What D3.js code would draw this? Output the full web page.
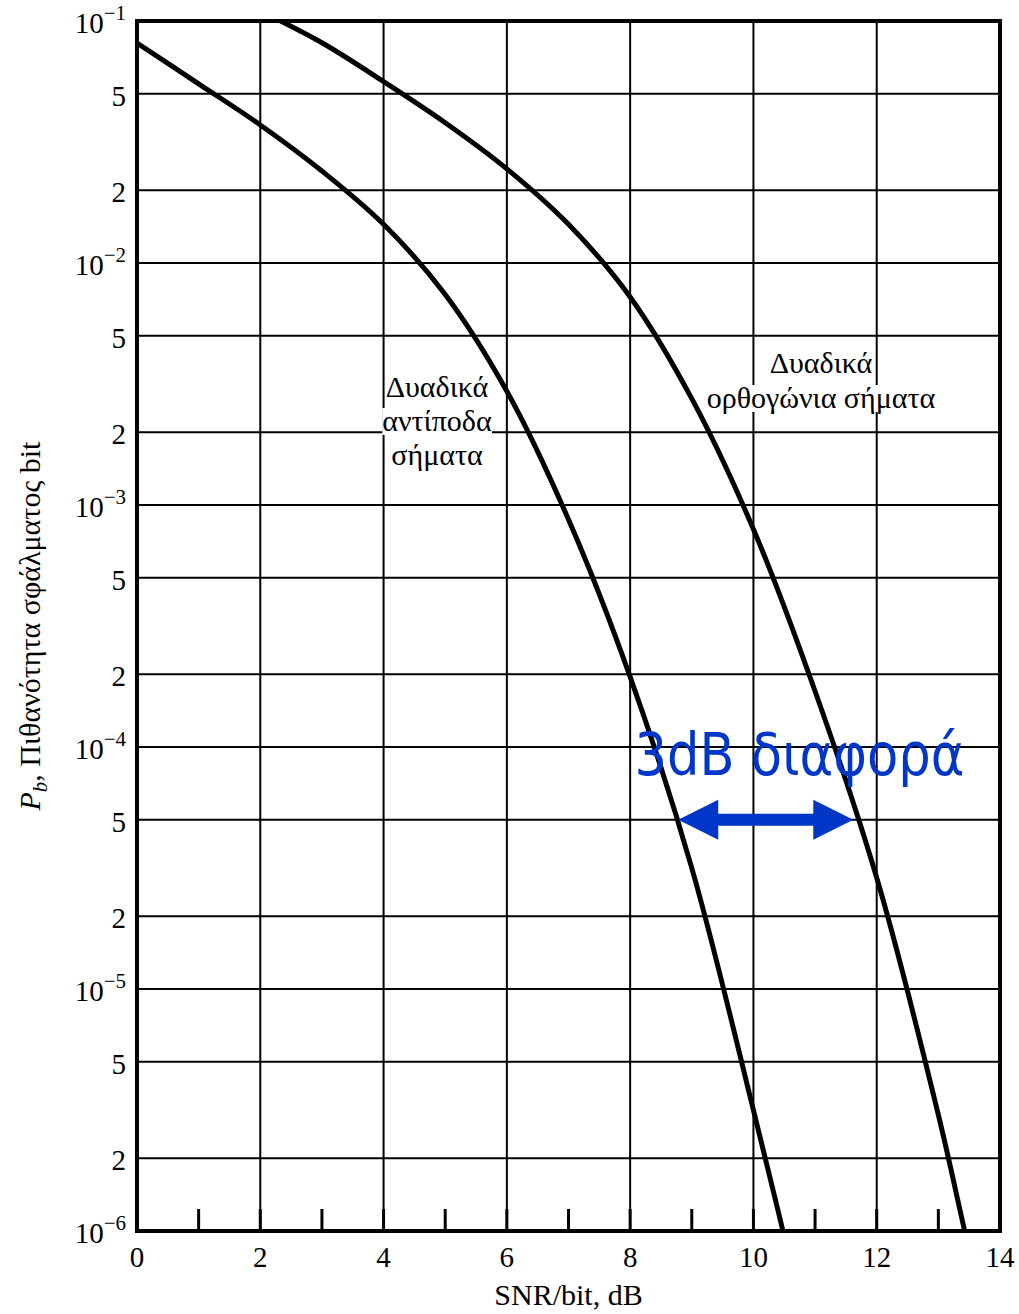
<!DOCTYPE html>
<html>
<head>
<meta charset="utf-8">
<script src="https://cdn.jsdelivr.net/npm/d3@7"></script>
<style>
  body { margin: 0; background: #fff; }
  svg { display: block; }
</style>
</head>
<body>
<div id="chart"></div>
<script>
var width = 1019,
	height = 1314;

// Data (SNR/bit in dB, bit error probability)
var snrAntipodal = [0, 1, 2, 3, 4, 5, 6, 7, 8, 9, 10, 10.5, 11];
var pbAntipodal  = [0.0811, 0.055, 0.0372, 0.024, 0.01445, 0.00741, 0.00295, 8.71e-4, 1.95e-4, 3.16e-5, 3.16e-6, 9.5e-7, 2.8e-7];
var snrOrthogonal = [2, 3, 4, 5, 6, 7, 8, 9, 10, 11, 12, 13, 13.5, 14];
var pbOrthogonal  = [0.11, 0.0813, 0.0562, 0.038, 0.0245, 0.01445, 0.00724, 0.00275, 7.94e-4, 1.7e-4, 2.88e-5, 3.02e-6, 8.3e-7, 2.5e-7];

var xTicks = [0, 2, 4, 6, 8, 10, 12, 14];
var xMinor = [1, 2, 3, 4, 5, 6, 7, 8, 9, 10, 11, 12, 13];
var decades = [-6, -5, -4, -3, -2, -1];
var mantissas = [2, 5];

var labelAntipodal = ["Δυαδικά", "αντίποδα", "σήματα"];
var labelOrthogonal = ["Δυαδικά", "ορθογώνια σήματα"];
var diffLabel = "3dB διαφορά";
var arrowFrom = 8.78, arrowTo = 11.62, arrowAt = 5e-5;

var margin = {top: 21, right: 19, bottom: 83, left: 137};
var serif = "'Liberation Serif', 'DejaVu Serif', 'Times New Roman', serif";

var svg = d3.select("#chart")
	.append("svg")
	.attr("width", width)
	.attr("height", height);

// Scales
var x = d3.scaleLinear()
	.domain([0, 14])
	.range([margin.left, width - margin.right]);
var y = d3.scaleLog()
	.domain([1e-6, 1e-1])
	.range([height - margin.bottom, margin.top]);

var yGrid = [];
decades.forEach(function(e){
	yGrid.push(Math.pow(10, e));
	if (e < -1) mantissas.forEach(function(m){ yGrid.push(m * Math.pow(10, e)); });
});

// Grid
var grid = svg.append("g").attr("class", "grid");
grid.selectAll(".hgrid")
	.data(yGrid)
	.enter()
	.append("line")
	.attr("x1", x(0)).attr("x2", x(14))
	.attr("y1", function(d){ return y(d); })
	.attr("y2", function(d){ return y(d); })
	.attr("stroke", "#000")
	.attr("stroke-width", 2);
grid.selectAll(".vgrid")
	.data(xTicks)
	.enter()
	.append("line")
	.attr("x1", function(d){ return x(d); })
	.attr("x2", function(d){ return x(d); })
	.attr("y1", y(1e-1)).attr("y2", y(1e-6))
	.attr("stroke", "#000")
	.attr("stroke-width", 2);

// minor ticks along the bottom
grid.selectAll(".minor")
	.data(xMinor)
	.enter()
	.append("line")
	.attr("x1", function(d){ return x(d); })
	.attr("x2", function(d){ return x(d); })
	.attr("y1", y(1e-6)).attr("y2", y(1e-6) - 22)
	.attr("stroke", "#000")
	.attr("stroke-width", 3);

// Curve labels with white background (drawn before curves)
function curveLabel(lines, cx, firstBaseline, step) {
	var g = svg.append("g");
	lines.forEach(function(t, i){
		var txt = g.append("text")
			.attr("x", cx)
			.attr("y", firstBaseline + i * step)
			.attr("text-anchor", "middle")
			.attr("font-family", serif)
			.attr("font-size", 30)
			.text(t);
		var b = txt.node().getBBox();
		g.insert("rect", "text")
			.attr("x", b.x).attr("y", b.y + 4)
			.attr("width", b.width).attr("height", b.height - 6)
			.attr("fill", "#fff");
	});
}
curveLabel(labelAntipodal, 437, 397, 34);
curveLabel(labelOrthogonal, 821, 373, 35);

// Curves
svg.append("clipPath").attr("id", "plotclip")
	.append("rect")
	.attr("x", x(0)).attr("y", y(1e-1))
	.attr("width", x(14) - x(0)).attr("height", y(1e-6) - y(1e-1));

var line = d3.line()
	.x(function(d){ return x(d[0]); })
	.y(function(d){ return y(d[1]); })
	.curve(d3.curveCatmullRom);

var curves = svg.append("g").attr("clip-path", "url(#plotclip)");
curves.append("path")
	.datum(d3.zip(snrAntipodal, pbAntipodal))
	.attr("d", line)
	.attr("fill", "none")
	.attr("stroke", "#000")
	.attr("stroke-width", 5);
curves.append("path")
	.datum(d3.zip(snrOrthogonal, pbOrthogonal))
	.attr("d", line)
	.attr("fill", "none")
	.attr("stroke", "#000")
	.attr("stroke-width", 5);

// Frame
svg.append("rect")
	.attr("x", x(0)).attr("y", y(1e-1))
	.attr("width", x(14) - x(0)).attr("height", y(1e-6) - y(1e-1))
	.attr("fill", "none")
	.attr("stroke", "#000")
	.attr("stroke-width", 4);

// X tick labels
svg.append("g")
	.selectAll("text")
	.data(xTicks)
	.enter()
	.append("text")
	.attr("x", function(d){ return x(d); })
	.attr("y", y(1e-6) + 36)
	.attr("text-anchor", "middle")
	.attr("font-family", serif)
	.attr("font-size", 29)
	.text(function(d){ return d; });

// Y tick labels
var yl = svg.append("g");
yGrid.forEach(function(v){
	var e = Math.floor(Math.log10(v) + 1e-9);
	var m = Math.round(v / Math.pow(10, e));
	var t = yl.append("text")
		.attr("x", x(0) - 11)
		.attr("y", y(v) + 12)
		.attr("text-anchor", "end")
		.attr("font-family", serif)
		.attr("font-size", 29);
	if (m === 1) {
		t.append("tspan").text("10");
		t.append("tspan")
			.attr("dy", -13)
			.attr("font-size", 21)
			.text("\u2212" + (-e));
	} else {
		t.text(m);
	}
});

// Axis titles
svg.append("text")
	.attr("x", (x(0) + x(14)) / 2)
	.attr("y", 1305)
	.attr("text-anchor", "middle")
	.attr("font-family", serif)
	.attr("font-size", 30)
	.text("SNR/bit, dB");

var yt = svg.append("text")
	.attr("transform", "translate(40," + ((y(1e-1) + y(1e-6)) / 2) + ") rotate(-90)")
	.attr("text-anchor", "middle")
	.attr("font-family", serif)
	.attr("font-size", 30);
yt.append("tspan").attr("font-style", "italic").text("P");
yt.append("tspan").attr("font-style", "italic").attr("font-size", 21).attr("dy", 7).text("b");
yt.append("tspan").attr("dy", -7).text(", Πιθανότητα σφάλματος bit");

// 3 dB annotation
var blue = "#0037c8";
var ay = y(arrowAt), ax1 = x(arrowFrom), ax2 = x(arrowTo);
var hl = 40, hh = 20, sh = 6;
svg.append("path")
	.attr("d", "M" + ax1 + "," + ay +
		"L" + (ax1 + hl) + "," + (ay - hh) +
		"L" + (ax1 + hl) + "," + (ay - sh) +
		"L" + (ax2 - hl) + "," + (ay - sh) +
		"L" + (ax2 - hl) + "," + (ay - hh) +
		"L" + ax2 + "," + ay +
		"L" + (ax2 - hl) + "," + (ay + hh) +
		"L" + (ax2 - hl) + "," + (ay + sh) +
		"L" + (ax1 + hl) + "," + (ay + sh) +
		"L" + (ax1 + hl) + "," + (ay + hh) + "Z")
	.attr("fill", blue);

svg.append("text")
	.attr("x", x(8.07))
	.attr("y", y(arrowAt) - 45)
	.attr("font-family", "'DejaVu Sans', sans-serif")
	.attr("font-size", 58)
	.attr("textLength", 330)
	.attr("lengthAdjust", "spacingAndGlyphs")
	.attr("fill", blue)
	.text(diffLabel);
</script>
</body>
</html>
